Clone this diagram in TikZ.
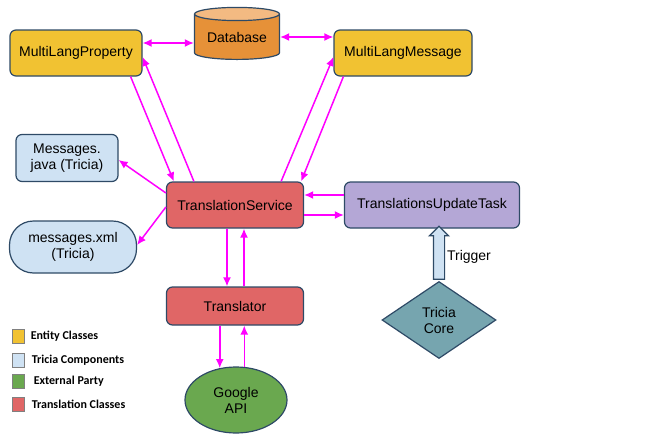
\documentclass[tikz,border=0pt]{standalone}
\usepackage{fontspec}
\setmainfont{Liberation Sans}
\newfontfamily\legfont{Carlito}
\usetikzlibrary{arrows.meta,positioning,shapes.geometric,shapes.arrows}
\definecolor{entityc}{HTML}{F1C232}
\definecolor{dbbody}{HTML}{E69138}
\definecolor{dbtop}{HTML}{F3BA82}
\definecolor{triciac}{HTML}{CFE2F3}
\definecolor{translc}{HTML}{E06666}
\definecolor{taskc}{HTML}{B4A7D6}
\definecolor{corec}{HTML}{76A5AF}
\definecolor{googlec}{HTML}{6AA84F}
\definecolor{edgec}{HTML}{2E4A66}
\definecolor{linkc}{HTML}{FF00FF}

\begin{document}
\begin{tikzpicture}[x=0.5pt,y=-0.5pt,font=\fontsize{7}{8}\selectfont,
    >={Latex[length=4.5pt,width=4pt]},
    box/.style={draw=edgec,line width=0.6pt,rounded corners=3pt,minimum height=23pt,align=center,inner sep=1pt},
    entity/.style={box,fill=entityc},
    tricia/.style={box,fill=triciac},
    transl/.style={box,fill=translc},
    link/.style={linkc,line width=0.75pt},
    legbox/.style={draw=gray,fill=#1,minimum width=6pt,minimum height=7pt,inner sep=0pt},
    legtext/.style={font=\legfont\bfseries\fontsize{6}{7}\selectfont,inner sep=0pt}]
  \useasboundingbox (0,0) rectangle (655,434);

  \node[entity,minimum width=66pt]   (mlp)   at (76,53)  {MultiLangProperty};
  \node[cylinder,shape border rotate=90,aspect=0.22,draw=edgec,line width=0.6pt,
        minimum height=26pt,minimum width=42.5pt,inner sep=0pt,cylinder uses custom fill,
        cylinder body fill=dbbody,cylinder end fill=dbtop] (db) at (237,37) {Database};
  \node[entity,minimum width=69pt]   (mlm)   at (403,53) {MultiLangMessage};
  \node[tricia,minimum width=51pt,minimum height=23.5pt] (mjava) at (67,158) {Messages.\\java (Tricia)};
  \node[tricia,minimum width=63.5pt,minimum height=26pt,rounded corners=12pt] (mxml) at (73,247) {messages.xml\\(Tricia)};
  \node[transl,minimum width=68.5pt] (ts)    at (235,205) {TranslationService};
  \node[box,fill=taskc,minimum width=87.5pt] (tut) at (432,205) {TranslationsUpdateTask};
  \node[transl,minimum width=68.5pt,minimum height=19pt] (tr) at (235,306) {Translator};
  \node[ellipse,draw=edgec,line width=0.6pt,fill=googlec,minimum width=51pt,minimum height=33pt,inner sep=0pt,align=center] (gapi) at (236,400) {Google\\API};
  \node[diamond,draw=edgec,line width=0.6pt,fill=corec,aspect=1.5,minimum width=57pt,minimum height=38.5pt,inner sep=0pt,align=center] (core) at (439,320) {Tricia\\Core};

  \node[single arrow,draw=edgec,line width=0.6pt,fill=triciac,rotate=90,minimum height=26.5pt,
        single arrow head extend=2pt,single arrow head indent=0pt,inner sep=2.5pt] (trig) at (439,255.5) {};
  \node (trglabel) at (469,257) {Trigger};

  \draw[link,<->] ([yshift=5pt]mlp.east) -- ([yshift=5pt]mlp.east -| db.west);
  \draw[link,<->] ([yshift=8pt]mlm.west -| db.east) -- ([yshift=8pt]mlm.west);
  \draw[link,->] ([xshift=-6pt]mlp.south east) -- ([xshift=4pt]ts.north west);
  \draw[link,->] ([xshift=14pt]ts.north west) -- ([yshift=-2pt]mlp.east);
  \draw[link,->] ([xshift=-11.5pt]ts.north east) -- ([yshift=-2pt]mlm.west);
  \draw[link,->] ([xshift=5pt]mlm.south west) -- ([xshift=-1.5pt]ts.north east);
  \draw[link,->] ([yshift=6pt]ts.west) -- ([yshift=-1pt]mjava.east);
  \draw[link,->] ([yshift=-1pt]ts.west) -- ([yshift=1pt]mxml.east);
  \draw[link,->] ([yshift=5pt]tut.west) -- ([yshift=5pt]ts.east);
  \draw[link,->] ([yshift=-5pt]ts.east) -- ([yshift=-5pt]tut.west);
  \draw[link,->] ([xshift=-4pt]ts.south) -- ([xshift=-4pt]tr.north);
  \draw[link,->] ([xshift=4.5pt]tr.north) -- ([xshift=4.5pt]ts.south);
  \draw[link,->] (tr.south -| gapi.117) -- (gapi.117);
  \draw[link,->] (gapi.76) -- (gapi.76 |- tr.south);

  \node[legbox=entityc]  (lent)  at (18,336) {};
  \node[legtext,right=3pt of lent] {Entity Classes};
  \node[legbox=triciac]  (ltri)  at (18,360) {};
  \node[legtext,right=3.5pt of ltri] {Tricia Components};
  \node[legbox=googlec]  (lext)  at (18,381) {};
  \node[legtext,right=4.5pt of lext] {External Party};
  \node[legbox=translc]  (ltra)  at (18,404) {};
  \node[legtext,right=3.5pt of ltra] {Translation Classes};
\end{tikzpicture}
\end{document}
